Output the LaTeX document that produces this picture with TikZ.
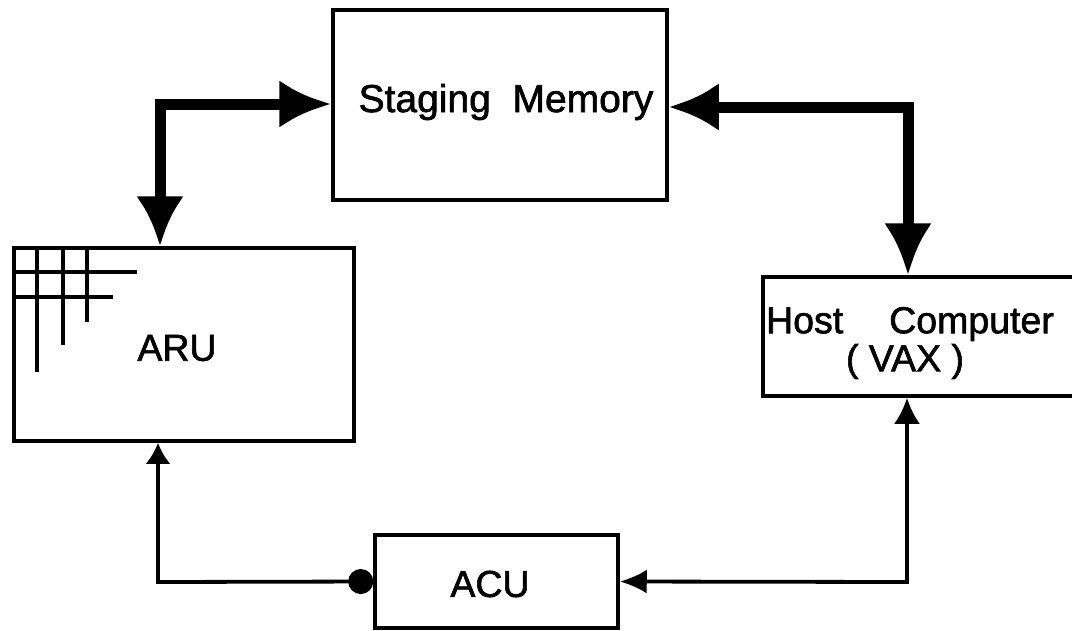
\documentclass[tikz,border=0pt]{standalone}
\usepackage{fontspec}
\setmainfont{Liberation Sans}
\newfontfamily\diagfont{Liberation Sans}[FakeBold=1.6]
\usetikzlibrary{arrows.meta}
\begin{document}
\begin{tikzpicture}[x=1pt,y=-1pt,
  box/.style={draw, line width=3.5pt, rectangle, inner sep=0pt},
  lbl/.style={inner sep=0pt, font=\diagfont\fontsize{37.5}{37}\selectfont, align=center},
  bus/.style={line width=11pt, line join=miter, {Latex[length=50pt,width=48pt]}-{Latex[length=52pt,width=48pt]}},
  wire/.style={line width=3.8pt, line join=miter},
  grid line/.style={line width=3.5pt, line cap=butt}]
\clip (0,0) rectangle (1072,630);
\fill[white] (0,0) rectangle (1072,630);
% boxes
\node[box, minimum width=334pt, minimum height=190pt] (sm) at (500,105) {};
\node[lbl, font=\diagfont\fontsize{39}{39}\selectfont] (smtext) at (506,102) {Staging\ \ Memory};
\node[box, minimum width=340pt, minimum height=193pt] (aru) at (184,344.5) {};
\node[lbl] (arutext) at (177,348) {ARU};
\node[box, minimum width=330pt, minimum height=119pt] (host) at (928,336.5) {};
\node[lbl] (hosttext) at (910,343) {Host\hspace{46pt}Computer\\[1pt]\hspace{-10pt}(\ VAX\ )};
\node[box, minimum width=243pt, minimum height=93pt] (acu) at (496.5,581.5) {};
\node[lbl] (acutext) at (490,584) {ACU};
% ARU grid
\draw[grid line] (37,248) -- (37,372);
\draw[grid line] (63,248) -- (63,345);
\draw[grid line] (87,248) -- (87,322);
\draw[grid line] (14,272) -- (137,272);
\draw[grid line] (14,297) -- (113,297);
% thick buses
\coordinate (lk) at (160,104);
\coordinate (rk) at (908,107);
\draw[bus] (lk |- aru.north) -- (lk) -- (sm.west |- lk);
\draw[bus] (sm.east |- rk) -- (rk) -- (rk |- host.north);
% thin wires
\coordinate (lb) at (158,582);
\coordinate (rb) at (907,582);
\draw[wire, {Latex[length=21pt,width=25pt]}-{Circle[length=25pt]}] (lb |- aru.south) -- (lb) -- (acu.west);
\draw[wire, {Latex[length=27pt,width=24pt]}-{Latex[length=26pt,width=26pt]}] (acu.east) -- (rb) -- (rb |- host.south);
\end{tikzpicture}
\end{document}
